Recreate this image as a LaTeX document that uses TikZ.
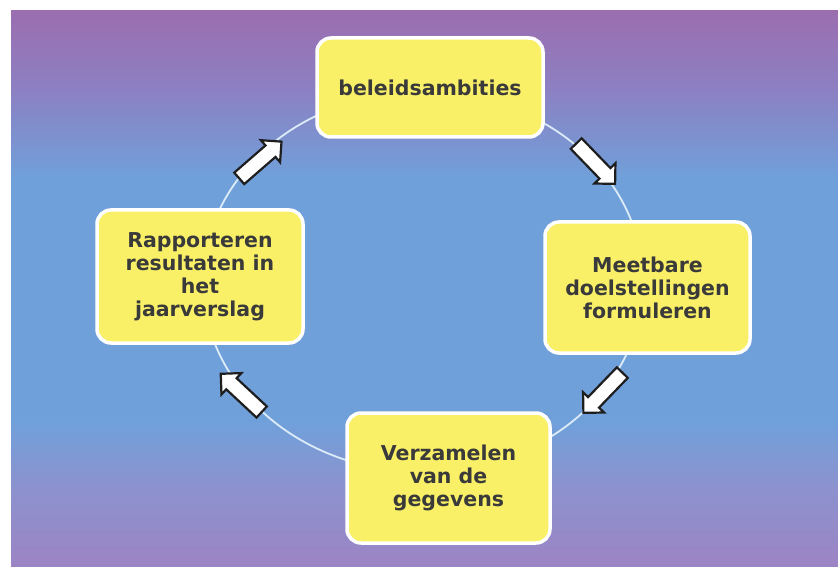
\documentclass[tikz,border=0pt]{standalone}
\usepackage{fontspec}
\setmainfont{DejaVu Sans}
\usetikzlibrary{shapes.arrows}
\definecolor{bgtop}{HTML}{9B6EB0}
\definecolor{bgupper}{HTML}{8C80C2}
\definecolor{bgblue}{HTML}{70A0DA}
\definecolor{bglower}{HTML}{8C92CE}
\definecolor{bgbot}{HTML}{9C84C4}
\definecolor{boxyellow}{HTML}{F9F067}
\definecolor{txtgray}{HTML}{3A3A3A}
\definecolor{ringc}{HTML}{DCEBF8}
\definecolor{arrowline}{HTML}{1E1E1E}
\pgfdeclareverticalshading{bgshade}{100bp}{color(0bp)=(bgbot); color(25bp)=(bgbot); color(32bp)=(bglower); color(38bp)=(bgblue); color(60bp)=(bgblue); color(68bp)=(bgupper); color(75bp)=(bgtop); color(100bp)=(bgtop)}
\begin{document}
\begin{tikzpicture}[x=1pt,y=-1pt,
  stage/.style={rectangle, rounded corners=14pt, fill=boxyellow, draw=white,
    line width=3.5pt, text=txtgray, font=\bfseries\fontsize{20.5}{23}\selectfont,
    align=center, inner sep=0pt},
  flowarrow/.style={single arrow, draw=arrowline, fill=white, line width=2.2pt,
    minimum height=56pt, minimum width=0pt, inner xsep=0pt, inner ysep=6.5pt,
    single arrow head extend=7pt, single arrow tip angle=90}]
\useasboundingbox (0,0) rectangle (838,569);
\fill[white] (0,0) rectangle (838,569);
\shade[shading=bgshade] (11,11) rectangle (838,566);
\draw[ringc, line width=1.8pt] (423,282) ellipse [x radius=220pt, y radius=190pt];
\node[stage, minimum width=226pt, minimum height=99pt] (b1) at (430,87.5) {beleidsambities};
\node[stage, minimum width=205pt, minimum height=131pt] (b2) at (647.5,287.5) {Meetbare\\doelstellingen\\formuleren};
\node[stage, minimum width=203pt, minimum height=130pt] (b3) at (448.5,478) {Verzamelen\\van de\\gegevens};
\node[stage, minimum width=206pt, minimum height=133pt] (b4) at (200,276.5) {Rapporteren\\resultaten in\\het\\jaarverslag};
\node[flowarrow, rotate=41] (a1) at (257.5,162.5) {};
\node[flowarrow, rotate=-46] (a2) at (593,161) {};
\node[flowarrow, rotate=-134] (a3) at (605.5,390) {};
\node[flowarrow, rotate=137] (a4) at (244,395.5) {};
\end{tikzpicture}
\end{document}
